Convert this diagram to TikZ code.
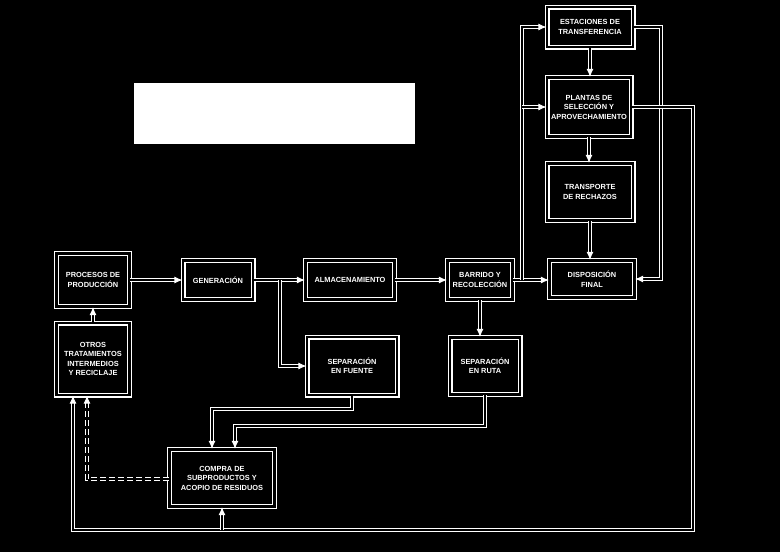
\documentclass[tikz,border=0pt]{standalone}
\usepackage{fontspec}
\setmainfont{Liberation Sans}
\usetikzlibrary{arrows.meta,positioning}

\tikzset{
  caja/.style={draw=white, double=black, double distance=2.8pt, line width=1.1pt,
    text=white, font=\fontsize{7.4}{9.5}\selectfont\bfseries, align=center, inner sep=1pt},
  flujo/.style={draw=white, double=black, double distance=2.6pt, line width=1pt,
    -{Latex[length=8pt,width=7pt]}},
}

\begin{document}
\begin{tikzpicture}[x=1pt,y=-1pt]
  \fill[black] (0,0) rectangle (780,552);
  \useasboundingbox (0,0) rectangle (780,552);
  \fill[white] (134,83) rectangle (415,144);

  % cajas
  \node[caja, minimum width=73pt, minimum height=53pt] (proc) at (93,280) {PROCESOS DE\\PRODUCCIÓN};
  \node[caja, minimum width=73pt, minimum height=72pt] (otros) at (93,359) {OTROS\\TRATAMIENTOS\\INTERMEDIOS\\Y RECICLAJE};
  \node[caja, minimum width=70pt, minimum height=39pt] (gen) at (218,280) {GENERACIÓN};
  \node[caja, minimum width=89pt, minimum height=39pt] (alm) at (350,280) {ALMACENAMIENTO};
  \node[caja, minimum width=65pt, minimum height=39pt] (barr) at (480,280) {BARRIDO Y\\RECOLECCIÓN};
  \node[caja, minimum width=90pt, minimum height=58pt] (sepf) at (352,366) {SEPARACIÓN\\EN FUENTE};
  \node[caja, minimum width=70pt, minimum height=57pt] (sepr) at (485,366) {SEPARACIÓN\\EN RUTA};
  \node[caja, minimum width=86pt, minimum height=40pt] (est) at (590,27) {ESTACIONES DE\\TRANSFERENCIA};
  \node[caja, minimum width=84pt, minimum height=59pt] (plan) at (589,107) {PLANTAS DE\\SELECCIÓN Y\\APROVECHAMIENTO};
  \node[caja, minimum width=86pt, minimum height=57pt] (trans) at (590,192) {TRANSPORTE\\DE RECHAZOS};
  \node[caja, minimum width=85pt, minimum height=37pt] (disp) at (592,279) {DISPOSICIÓN\\FINAL};
  \node[caja, minimum width=105pt, minimum height=57pt] (comp) at (222,478) {COMPRA DE\\SUBPRODUCTOS Y\\ACOPIO DE RESIDUOS};

  % puntos de paso
  \coordinate (j1) at (280,280);
  \coordinate (j2) at (522,280);
  \coordinate (e1) at (661,27);
  \coordinate (r1) at (693,530);
  \coordinate (l1) at (73,530);
  \coordinate (c1) at (212,409);
  \coordinate (c2) at (235,426);
  \coordinate (c3) at (87,479);

  % flujo principal
  \draw[flujo] (proc) -- (gen);
  \draw[flujo] (gen) -- (alm);
  \draw[flujo] (alm) -- (barr);
  \draw[flujo] (barr.east) -- (barr.east -| disp.west);
  \draw[flujo] (j1) |- (sepf.west);
  \draw[flujo] (barr.south) -- (barr.south |- sepr.north);
  \draw[flujo] (j2) |- (est.west);
  \draw[flujo] (j2 |- plan.west) -- (plan.west);
  \draw[flujo] (est) -- (est |- plan.north);
  \draw[flujo] (plan) -- (plan |- trans.north);
  \draw[flujo] (trans) -- (trans |- disp.north);
  \draw[flujo] (est.east) -- (e1) -- (e1 |- disp.east) -- (disp.east);
  \draw[flujo] (otros) -- (proc);

  % retornos
  \draw[flujo] (plan.east) -| (r1) -- (l1) -- (l1 |- otros.south);
  \draw[flujo] (comp.south |- r1) -- (comp.south);
  \draw[flujo] (sepf.south) |- (c1) -- (c1 |- comp.north);
  \draw[flujo] (sepr.south) |- (c2) -- (c2 |- comp.north);
  \draw[flujo, dash pattern=on 6pt off 3pt] (comp.west |- c3) -- (c3) -- (c3 |- otros.south);
\end{tikzpicture}
\end{document}
